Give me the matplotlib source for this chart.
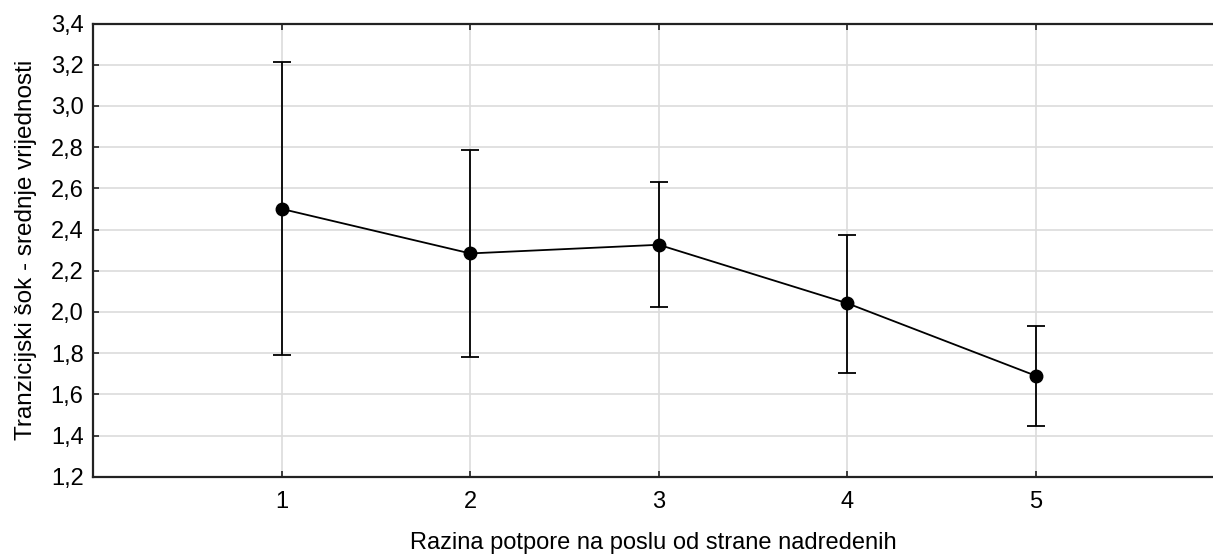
import matplotlib
matplotlib.use("Agg")
import matplotlib.pyplot as plt
from matplotlib.ticker import FuncFormatter, MultipleLocator

plt.rcParams['font.family'] = ['Liberation Sans', 'DejaVu Sans']

# data
levels = [1, 2, 3, 4, 5]
means = [2.50, 2.284, 2.326, 2.042, 1.690]
upper = [3.213, 2.786, 2.629, 2.375, 1.932]
lower = [1.791, 1.781, 2.024, 1.703, 1.446]

err_lo = [m - l for m, l in zip(means, lower)]
err_hi = [u - m for u, m in zip(upper, means)]

fig = plt.figure(figsize=(12.13, 5.54), dpi=100)
ax = fig.add_axes([0.0769, 0.1395, 0.9231, 0.818])

ax.errorbar(levels, means, yerr=[err_lo, err_hi], color='black', lw=1.3,
            marker='o', markersize=9, capsize=6.5, elinewidth=1.3,
            capthick=1.3, zorder=3)

ax.set_xlim(0, 5.94)
ax.set_ylim(1.2, 3.4)
ax.set_xticks(levels)
ax.yaxis.set_major_locator(MultipleLocator(0.2))
ax.yaxis.set_major_formatter(FuncFormatter(lambda v, p: f"{v:.1f}".replace('.', ',')))

ax.grid(True, color='#dcdcdc', lw=1.2, zorder=0)
ax.set_axisbelow(True)
ax.tick_params(direction='in', length=4, width=1.2, labelsize=17, top=True,
               colors='#222222', labelcolor='black')
ax.tick_params(axis='x', pad=10)
ax.tick_params(axis='y', pad=7)
for s in ['left', 'bottom', 'top']:
    ax.spines[s].set_linewidth(1.6)
    ax.spines[s].set_color('#222222')
ax.spines['right'].set_visible(False)

ax.set_xlabel("Razina potpore na poslu od strane nadredenih", fontsize=17, labelpad=14)
ax.set_ylabel("Tranzicijski šok - srednje vrijednosti", fontsize=17.5, labelpad=10)

fig.savefig("out.png", dpi=100)
